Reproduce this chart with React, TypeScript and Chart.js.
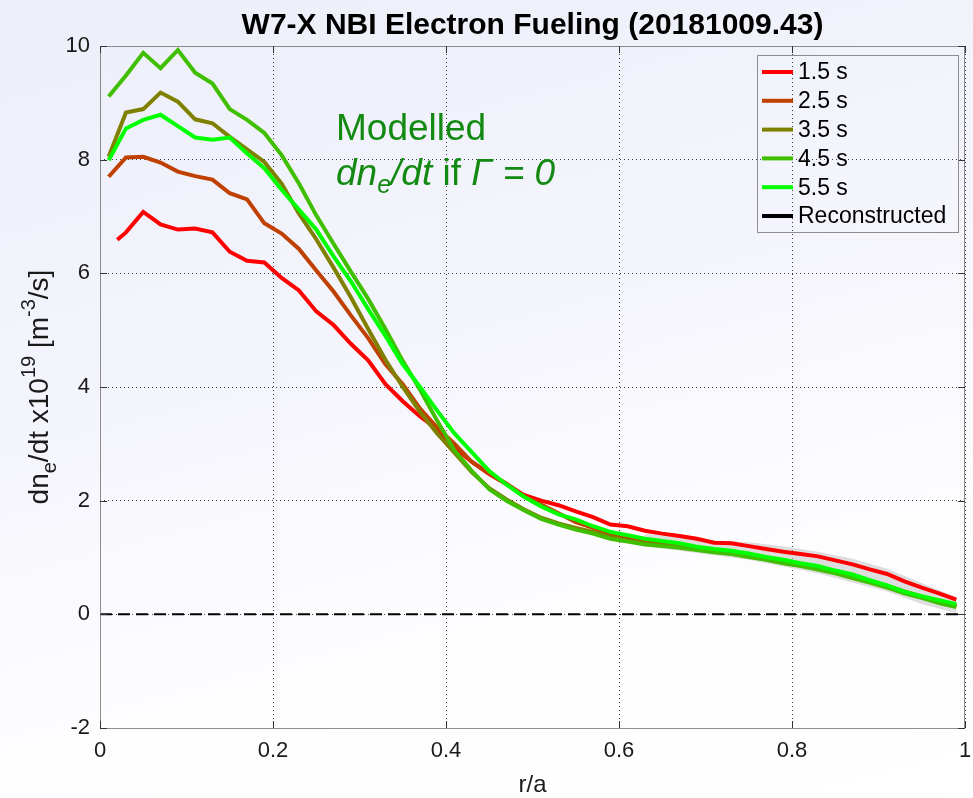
import React, { useEffect, useRef } from "react";
import { Chart, registerables } from "chart.js";

Chart.register(...registerables);

// Normalised minor radius grid shared by most profiles
const rGrid = [
  0.01, 0.03, 0.05, 0.07, 0.09, 0.11, 0.13, 0.15, 0.17, 0.19,
  0.21, 0.23, 0.25, 0.27, 0.29, 0.31, 0.33, 0.35, 0.37, 0.39,
  0.41, 0.43, 0.45, 0.47, 0.49, 0.51, 0.53, 0.55, 0.57, 0.59,
  0.61, 0.63, 0.65, 0.67, 0.69, 0.71, 0.73, 0.75, 0.77, 0.79,
  0.81, 0.83, 0.85, 0.87, 0.89, 0.91, 0.93, 0.95, 0.97, 0.99,
];

// The 1.5 s profile starts slightly off-axis
const rEarly = [
  0.02, 0.03, 0.05, 0.07, 0.09, 0.11, 0.13, 0.15, 0.17, 0.19,
  0.21, 0.23, 0.25, 0.27, 0.29, 0.31, 0.33, 0.35, 0.37, 0.39,
  0.41, 0.43, 0.45, 0.47, 0.49, 0.51, 0.53, 0.55, 0.57, 0.59,
  0.61, 0.63, 0.65, 0.67, 0.69, 0.71, 0.73, 0.75, 0.77, 0.79,
  0.81, 0.83, 0.85, 0.87, 0.89, 0.91, 0.93, 0.95, 0.97, 0.99,
];

// dn_e/dt x 1e19 [m^-3/s] for each time slice
const fuel15 = [
  6.59, 6.72, 7.08, 6.86, 6.77, 6.79, 6.72, 6.38, 6.22, 6.19,
  5.92, 5.70, 5.33, 5.09, 4.76, 4.47, 4.05, 3.75, 3.48, 3.26,
  2.93, 2.68, 2.47, 2.29, 2.10, 2.00, 1.92, 1.81, 1.71, 1.58,
  1.55, 1.47, 1.42, 1.38, 1.33, 1.26, 1.25, 1.20, 1.15, 1.10,
  1.06, 1.02, 0.95, 0.88, 0.79, 0.71, 0.58, 0.47, 0.37, 0.26,
];
const fuel25 = [
  7.70, 8.04, 8.05, 7.95, 7.79, 7.71, 7.65, 7.41, 7.30, 6.88,
  6.70, 6.43, 6.05, 5.68, 5.26, 4.86, 4.40, 4.05, 3.62, 3.28,
  3.00, 2.68, 2.48, 2.30, 2.08, 1.93, 1.78, 1.62, 1.52, 1.42,
  1.35, 1.29, 1.25, 1.21, 1.17, 1.12, 1.09, 1.04, 0.99, 0.93,
  0.88, 0.83, 0.76, 0.68, 0.59, 0.50, 0.40, 0.31, 0.23, 0.15,
];
const fuel35 = [
  8.05, 8.83, 8.89, 9.18, 9.02, 8.71, 8.64, 8.40, 8.18, 7.96,
  7.58, 7.05, 6.60, 6.10, 5.58, 5.02, 4.48, 4.00, 3.56, 3.18,
  2.84, 2.50, 2.22, 2.02, 1.85, 1.70, 1.60, 1.52, 1.45, 1.36,
  1.30, 1.25, 1.22, 1.19, 1.15, 1.10, 1.07, 1.02, 0.97, 0.91,
  0.87, 0.82, 0.75, 0.67, 0.58, 0.50, 0.40, 0.30, 0.22, 0.14,
];
const fuel45 = [
  9.11, 9.48, 9.88, 9.61, 9.93, 9.53, 9.34, 8.89, 8.70, 8.47,
  8.08, 7.58, 7.02, 6.52, 6.03, 5.55, 5.02, 4.46, 3.95, 3.40,
  2.88, 2.52, 2.20, 2.00, 1.83, 1.68, 1.58, 1.49, 1.42, 1.33,
  1.28, 1.23, 1.20, 1.17, 1.13, 1.09, 1.06, 1.01, 0.96, 0.90,
  0.85, 0.79, 0.72, 0.64, 0.56, 0.47, 0.37, 0.29, 0.20, 0.13,
];
const fuel55 = [
  7.99, 8.55, 8.70, 8.79, 8.59, 8.39, 8.35, 8.39, 8.11, 7.85,
  7.47, 7.12, 6.77, 6.30, 5.86, 5.37, 4.90, 4.40, 4.00, 3.58,
  3.18, 2.85, 2.52, 2.28, 2.07, 1.90, 1.76, 1.67, 1.55, 1.45,
  1.39, 1.33, 1.29, 1.25, 1.19, 1.15, 1.12, 1.07, 1.01, 0.96,
  0.90, 0.85, 0.77, 0.70, 0.60, 0.51, 0.40, 0.32, 0.25, 0.18,
];

// Uncertainty envelope of the reconstruction near the edge
const bandR = [0.63, 0.67, 0.71, 0.75, 0.79, 0.83, 0.87, 0.91, 0.95, 0.99];
const bandUpper = [1.42, 1.36, 1.30, 1.27, 1.20, 1.10, 0.98, 0.80, 0.55, 0.30];
const bandLower = [1.20, 1.12, 1.04, 0.96, 0.84, 0.72, 0.56, 0.40, 0.18, 0.02];

// Reconstructed profile: only appears in the legend
const reconR: number[] = [];
const reconVal: number[] = [];

const zeroR = [0, 1];
const zeroVal = [0, 0];

const seriesLabels = ["1.5 s", "2.5 s", "3.5 s", "4.5 s", "5.5 s", "Reconstructed"];
const seriesColors = ["#ff0000", "#bf4000", "#808000", "#40bf00", "#00ff00", "#000000"];

const xTicks = [0, 0.2, 0.4, 0.6, 0.8, 1];
const yTicks = [-2, 0, 2, 4, 6, 8, 10];

const FONT = "'Liberation Sans', Arial, Helvetica, sans-serif";
const ANNOT_GREEN = "#128a12";

const pts = (xs: number[], ys: number[]) => xs.map((x, i) => ({ x, y: ys[i] }));

const decorPlugin = {
  id: "decor",
  afterDraw(chart: any) {
    const ctx: CanvasRenderingContext2D = chart.ctx;
    const { left, right, top, bottom } = chart.chartArea;
    const xs = chart.scales.x;
    const ys = chart.scales.y;
    ctx.save();

    // axes box
    ctx.strokeStyle = "#8c8c8c";
    ctx.lineWidth = 1;
    ctx.setLineDash([]);
    ctx.strokeRect(Math.round(left) + 0.5, Math.round(top) + 0.5, Math.round(right - left) - 1, Math.round(bottom - top));

    // inward tick marks
    ctx.strokeStyle = "#333";
    ctx.beginPath();
    xTicks.forEach((v) => {
      const px = Math.round(xs.getPixelForValue(v)) + 0.5;
      ctx.moveTo(px, bottom);
      ctx.lineTo(px, bottom - 7);
      ctx.moveTo(px, top);
      ctx.lineTo(px, top + 7);
    });
    yTicks.forEach((v) => {
      const py = Math.round(ys.getPixelForValue(v)) + 0.5;
      ctx.moveTo(left, py);
      ctx.lineTo(left + 7, py);
      ctx.moveTo(right, py);
      ctx.lineTo(right - 7, py);
    });
    ctx.stroke();

    // title
    ctx.fillStyle = "#000";
    ctx.textAlign = "center";
    ctx.textBaseline = "alphabetic";
    ctx.font = `bold 30px ${FONT}`;
    ctx.fillText("W7-X NBI Electron Fueling (20181009.43)", (left + right) / 2, 34);

    // x axis title
    ctx.fillStyle = "#1a1a1a";
    ctx.font = `24px ${FONT}`;
    ctx.fillText("r/a", (left + right) / 2, 792);

    // y axis title with sub/superscripts
    const ySegs = [
      { t: "dn", s: 28, dy: 0 },
      { t: "e", s: 20, dy: 8 },
      { t: "/dt x10", s: 28, dy: 0 },
      { t: "19", s: 20, dy: -13 },
      { t: " [m", s: 28, dy: 0 },
      { t: "-3", s: 20, dy: -13 },
      { t: "/s]", s: 28, dy: 0 },
    ];
    let total = 0;
    ySegs.forEach((g) => {
      ctx.font = `${g.s}px ${FONT}`;
      total += ctx.measureText(g.t).width;
    });
    ctx.save();
    ctx.translate(48, (top + bottom) / 2);
    ctx.rotate(-Math.PI / 2);
    ctx.textAlign = "left";
    let cx = -total / 2;
    ySegs.forEach((g) => {
      ctx.font = `${g.s}px ${FONT}`;
      ctx.fillText(g.t, cx, g.dy);
      cx += ctx.measureText(g.t).width;
    });
    ctx.restore();

    // annotation
    ctx.fillStyle = ANNOT_GREEN;
    ctx.textAlign = "left";
    ctx.font = `37px ${FONT}`;
    ctx.fillText("Modelled", 336, 140);
    const aSegs = [
      { t: "dn", f: `italic 37px ${FONT}`, dy: 0 },
      { t: "e", f: `italic 25px ${FONT}`, dy: 8 },
      { t: "/dt", f: `italic 37px ${FONT}`, dy: 0 },
      { t: " if ", f: `37px ${FONT}`, dy: 0 },
      { t: "Γ = 0", f: `italic 37px ${FONT}`, dy: 0 },
    ];
    let ax = 336;
    aSegs.forEach((g) => {
      ctx.font = g.f;
      ctx.fillText(g.t, ax, 185 + g.dy);
      ax += ctx.measureText(g.t).width;
    });

    // legend
    const lx = 757, ly = 55, lw = 201, lh = 177;
    ctx.strokeStyle = "#8c8c8c";
    ctx.lineWidth = 1;
    ctx.strokeRect(lx + 0.5, ly + 0.5, lw, lh);
    ctx.font = `23px ${FONT}`;
    ctx.textBaseline = "middle";
    seriesLabels.forEach((lab, i) => {
      const yy = 72 + i * 28.8;
      ctx.strokeStyle = seriesColors[i];
      ctx.lineWidth = 4;
      ctx.beginPath();
      ctx.moveTo(762, yy);
      ctx.lineTo(793, yy);
      ctx.stroke();
      ctx.fillStyle = "#000";
      ctx.fillText(lab, 798, yy + 1);
    });

    ctx.restore();
  },
};

export default function App() {
  const canvasRef = useRef<HTMLCanvasElement | null>(null);

  useEffect(() => {
    const canvas = canvasRef.current;
    if (!canvas) return;

    const line = (label: string, xs: number[], ys: number[], color: string, order: number) => ({
      label,
      data: pts(xs, ys),
      borderColor: color,
      backgroundColor: color,
      borderWidth: 4,
      pointRadius: 0,
      fill: false,
      order,
    });

    const chart = new Chart(canvas, {
      type: "line",
      data: {
        datasets: [
          {
            label: "band-upper",
            data: pts(bandR, bandUpper),
            borderWidth: 0,
            borderColor: "rgba(0,0,0,0)",
            pointRadius: 0,
            fill: false,
            order: 21,
          },
          {
            label: "band-lower",
            data: pts(bandR, bandLower),
            borderWidth: 0,
            borderColor: "rgba(0,0,0,0)",
            backgroundColor: "rgba(195,195,195,0.55)",
            pointRadius: 0,
            fill: "-1",
            order: 20,
          },
          line(seriesLabels[0], rEarly, fuel15, seriesColors[0], 5),
          line(seriesLabels[1], rGrid, fuel25, seriesColors[1], 4),
          line(seriesLabels[2], rGrid, fuel35, seriesColors[2], 3),
          line(seriesLabels[3], rGrid, fuel45, seriesColors[3], 2),
          line(seriesLabels[4], rGrid, fuel55, seriesColors[4], 1),
          line(seriesLabels[5], reconR, reconVal, seriesColors[5], 0),
          {
            label: "zero",
            data: pts(zeroR, zeroVal),
            borderColor: "#000",
            borderWidth: 2,
            borderDash: [12, 6],
            pointRadius: 0,
            fill: false,
            order: 0,
          },
        ],
      },
      options: {
        animation: false,
        responsive: false,
        maintainAspectRatio: false,
        layout: { padding: { top: 46, right: 8, left: 0, bottom: 0 } },
        plugins: {
          legend: { display: false },
          tooltip: { enabled: false },
          title: { display: false },
        },
        elements: { line: { tension: 0 }, point: { radius: 0 } },
        scales: {
          x: {
            type: "linear",
            min: 0,
            max: 1,
            afterBuildTicks: (s: any) => {
              s.ticks = xTicks.map((v) => ({ value: v }));
            },
            afterFit: (s: any) => {
              s.height = 70;
              s.paddingLeft = 0;
              s.paddingRight = 0;
            },
            grid: { color: "rgba(30,30,30,0.85)", lineWidth: 1, drawTicks: false },
            border: { display: false, dash: [1, 3] },
            ticks: {
              color: "#1a1a1a",
              padding: 10,
              maxRotation: 0,
              font: { family: FONT, size: 22 },
              callback: (v: any) => String(v),
            },
          },
          y: {
            type: "linear",
            min: -2,
            max: 10,
            afterBuildTicks: (s: any) => {
              s.ticks = yTicks.map((v) => ({ value: v }));
            },
            afterFit: (s: any) => {
              s.width = 100;
              s.paddingTop = 0;
              s.paddingBottom = 0;
            },
            grid: { color: "rgba(30,30,30,0.85)", lineWidth: 1, drawTicks: false },
            border: { display: false, dash: [1, 3] },
            ticks: {
              color: "#1a1a1a",
              padding: 10,
              font: { family: FONT, size: 22 },
              callback: (v: any) => String(v),
            },
          },
        },
      },
      plugins: [decorPlugin],
    });

    return () => chart.destroy();
  }, []);

  return (
    <div
      style={{
        position: "fixed",
        left: 0,
        top: 0,
        width: 973,
        height: 798,
        background: "linear-gradient(165deg, #eceef9 0%, #f4f5fc 40%, #fdfdff 70%, #ffffff 100%)",
      }}
    >
      <canvas ref={canvasRef} width={973} height={798} style={{ width: 973, height: 798, display: "block" }} />
    </div>
  );
}
